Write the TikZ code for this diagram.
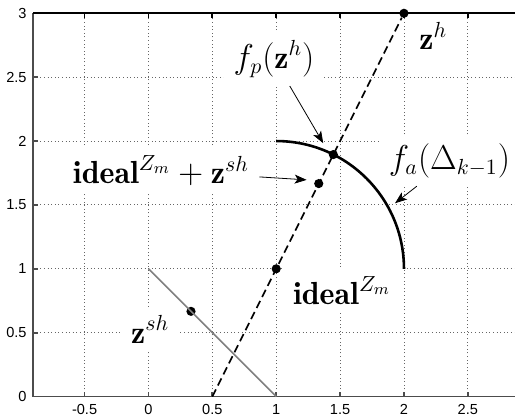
\documentclass[tikz,border=0pt]{standalone}
\usepackage{amsmath}
\usepackage{fontspec}
\newfontfamily\ticksf{Liberation Sans}
\usetikzlibrary{arrows.meta}

\begin{document}
\begin{tikzpicture}[
    x=2.25cm, y=2.25cm,
    every node/.style={font=\fontsize{16}{19}\selectfont},
    grd/.style={black!60, line width=0.45pt, dash pattern=on 0.5pt off 1.3pt},
    ax/.style={black!70, line width=0.9pt},
    tk/.style={font=\ticksf\fontsize{7.3}{8.5}\selectfont, inner sep=0pt},
    dot/.style={circle, fill, inner sep=0pt, minimum size=4.6pt},
    lbl/.style={fill=white, inner xsep=5pt, inner ysep=4pt, anchor=base},
    e/.style={-{Stealth[length=6pt, width=4.5pt, inset=1.5pt]}, line width=0.4pt},
  ]
  \useasboundingbox (-1.162, -0.1745) rectangle (2.869, 3.104);
  \foreach \x in {-0.5,0,0.5,1,1.5,2,2.5} \draw[grd] (\x,0) -- (\x,3);
  \foreach \y in {0.5,1,1.5,2,2.5} \draw[grd] (-0.902,\y) -- (2.869,\y);
  \foreach \x [count=\i] in {-0.5,0,0.5,1,1.5,2,2.5} {
    \draw[ax] (\x,0) -- ++(0,0.035);
    \draw[ax, black] (\x,3) -- ++(0,-0.035);
    \node[tk] (xl\i) at (\x,-0.103) {\x};
  }
  \foreach \y [count=\i] in {0,0.5,1,1.5,2,2.5,3} {
    \draw[ax] (-0.902,\y) -- ++(0.035,0);
    \node[tk, anchor=east] (yl\i) at (-0.951,\y) {\y};
  }
  \draw[ax] (-0.902,3) -- (-0.902,0) -- (2.869,0);
  \draw[ax, black] (-0.902,3) -- (2.869,3);

  \node[dot] (zh) at (2.00, 3.00) {};
  \node[dot] (id) at (1.00, 1.00) {};
  \node[dot] (fp) at (1.447, 1.894) {};
  \node[dot] (idsh) at (1.333, 1.667) {};
  \node[dot] (zsh) at (0.333, 0.667) {};
  \coordinate (g1) at (0,1);
  \coordinate (g2) at (1,0);
  \coordinate (base) at (0.5,0);
  \coordinate (a1) at (1,2);
  \draw[black!50, line width=0.8pt] (g1) -- (g2);
  \draw[line width=0.8pt, dash pattern=on 4pt off 2.2pt] (base) -- (zh);
  \draw[line width=1.3pt] (a1) arc[start angle=90, end angle=0, radius=1];

  \node[lbl] (fpl) at (0.983, 2.570) {$f_p(\mathbf{z}^h)$};
  \node[lbl] (zhl) at (2.230, 2.713) {$\mathbf{z}^h$};
  \node[lbl] (fal) at (2.356, 1.779) {$f_a(\Delta_{k-1})$};
  \node[lbl] (idshl) at (0.098, 1.664) {$\mathbf{ideal}^{Z_m}+\mathbf{z}^{sh}$};
  \node[lbl] (idl) at (1.515, 0.7175) {$\mathbf{ideal}^{Z_m}$};
  \node[lbl] (zshl) at (0.014, 0.418) {$\mathbf{z}^{sh}$};
  \coordinate (fph) at (1.368, 1.983);
  \coordinate (idshh) at (1.238, 1.696);
  \coordinate (fah) at (1.930, 1.513);
  \draw[e] (fpl) -- (fph);
  \draw[e] (idshl) -- (idshh);
  \draw[e] (fal) -- (fah);
\end{tikzpicture}
\end{document}
